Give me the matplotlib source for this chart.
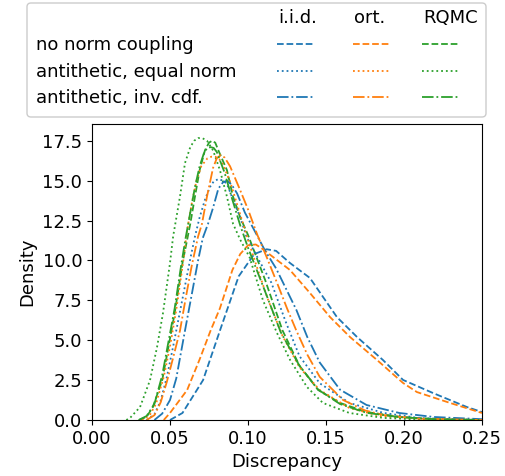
import matplotlib
matplotlib.use("Agg")
import matplotlib.pyplot as plt
from matplotlib.lines import Line2D
from matplotlib.patches import FancyBboxPatch

# curve samples (x = discrepancy, y = density)
iid_none_x = [0.050, 0.058, 0.0712, 0.082, 0.094, 0.104, 0.112, 0.118, 0.1269, 0.1397, 0.1481, 0.157,
              0.1699, 0.1865, 0.1994, 0.2186, 0.2404, 0.25]
iid_none_y = [0.0, 0.44, 2.5, 5.6, 9.0, 10.4, 10.7, 10.6, 9.84, 8.90, 7.71, 6.45,
              5.2, 3.76, 2.51, 1.69, 0.81, 0.5]

ort_none_x = [0.046, 0.050, 0.061, 0.069, 0.076, 0.082, 0.090, 0.095, 0.100, 0.105, 0.1096, 0.1269,
              0.1397, 0.1526, 0.1654, 0.1827, 0.1994, 0.2083, 0.2295, 0.25]
ort_none_y = [0.0, 0.44, 1.88, 3.8, 5.6, 7.0, 9.4, 10.4, 10.95, 11.0, 10.7, 9.40,
              7.96, 6.45, 5.2, 3.76, 2.32, 1.75, 1.07, 0.44]

rqmc_none_x = [0.030, 0.035, 0.039, 0.045, 0.049, 0.053, 0.058, 0.061, 0.063, 0.066, 0.069, 0.0724,
               0.075, 0.077, 0.079, 0.081, 0.0865, 0.0904, 0.095, 0.100, 0.111, 0.122, 0.133, 0.145,
               0.159, 0.176, 0.197, 0.22, 0.25]
rqmc_none_y = [0.0, 0.2, 0.81, 2.5, 4.57, 6.7, 9.84, 11.3, 12.3, 14.0, 15.66, 16.9,
               17.38, 17.5, 17.38, 16.9, 15.66, 14.0, 12.7, 11.6, 8.77, 5.64, 3.4, 1.88,
               1.07, 0.5, 0.2, 0.05, 0.0]

iid_eq_x = [0.035, 0.040, 0.044, 0.048, 0.052, 0.056, 0.060, 0.063, 0.066, 0.069, 0.0724, 0.0756,
            0.078, 0.081, 0.084, 0.0865, 0.0904, 0.095, 0.099, 0.106, 0.115, 0.124, 0.133, 0.146,
            0.165, 0.187, 0.21, 0.25]
iid_eq_y = [0.0, 0.35, 1.2, 2.7, 4.6, 6.6, 8.6, 10.1, 11.5, 12.7, 13.8, 14.6,
            14.95, 15.1, 15.0, 14.8, 13.8, 12.7, 11.5, 10.2, 8.6, 6.2, 4.0, 2.3,
            1.07, 0.44, 0.12, 0.0]

ort_eq_x = [0.032, 0.037, 0.041, 0.046, 0.050, 0.054, 0.058, 0.061, 0.064, 0.067, 0.070, 0.074,
            0.0765, 0.079, 0.0815, 0.084, 0.089, 0.094, 0.100, 0.106, 0.113, 0.122, 0.133, 0.146,
            0.165, 0.185, 0.21, 0.25]
ort_eq_y = [0.0, 0.3, 1.0, 2.7, 4.6, 6.9, 9.6, 11.9, 13.6, 15.0, 15.9, 16.4,
            16.5, 16.5, 16.35, 16.0, 14.8, 13.2, 11.3, 9.5, 7.5, 5.3, 3.3, 1.88,
            0.75, 0.25, 0.06, 0.0]

rqmc_eq_x = [0.022, 0.0244, 0.0308, 0.0372, 0.0417, 0.0455, 0.050, 0.052, 0.0564, 0.0596, 0.063, 0.0655,
             0.068, 0.071, 0.0737, 0.0776, 0.082, 0.0865, 0.0904, 0.095, 0.101, 0.1096, 0.1186, 0.127,
             0.1378, 0.148, 0.165, 0.187, 0.21, 0.25]
rqmc_eq_y = [0.0, 0.13, 0.81, 2.5, 4.57, 6.7, 9.84, 11.5, 14.0, 16.1, 17.1, 17.5,
             17.67, 17.65, 17.5, 16.9, 15.66, 14.0, 12.3, 11.3, 10.2, 7.5, 5.45, 3.76,
             2.07, 1.07, 0.44, 0.13, 0.03, 0.0]

iid_inv_x = [0.040, 0.045, 0.050, 0.054, 0.0596, 0.064, 0.068, 0.071, 0.0744, 0.0776, 0.081, 0.084,
             0.0865, 0.0895, 0.093, 0.098, 0.104, 0.111, 0.118, 0.124, 0.131, 0.138, 0.146, 0.159,
             0.176, 0.197, 0.219, 0.25]
iid_inv_y = [0.0, 0.4, 1.25, 2.6, 5.6, 7.9, 10.0, 11.4, 12.3, 13.3, 14.5, 14.9,
             15.0, 14.75, 14.2, 13.0, 11.9, 10.6, 9.5, 8.3, 6.9, 5.2, 3.6, 1.9,
             0.94, 0.44, 0.19, 0.05]

ort_inv_x = [0.035, 0.040, 0.044, 0.048, 0.052, 0.0564, 0.060, 0.064, 0.068, 0.0705, 0.0737, 0.0776,
             0.080, 0.0825, 0.085, 0.0885, 0.095, 0.100, 0.106, 0.112, 0.119, 0.125, 0.131, 0.138,
             0.146, 0.161, 0.175, 0.187, 0.21, 0.25]
ort_inv_y = [0.0, 0.3, 1.1, 2.4, 3.9, 5.6, 7.6, 9.7, 11.5, 12.3, 14.0, 15.8,
             16.4, 16.6, 16.45, 15.9, 14.4, 13.2, 11.6, 10.2, 8.5, 7.0, 5.6, 4.1,
             2.7, 1.25, 0.6, 0.31, 0.08, 0.0]

rqmc_inv_x = [0.030, 0.035, 0.040, 0.045, 0.049, 0.053, 0.057, 0.060, 0.063, 0.066, 0.069, 0.072,
              0.074, 0.076, 0.078, 0.080, 0.085, 0.090, 0.095, 0.100, 0.110, 0.121, 0.133, 0.145,
              0.159, 0.176, 0.197, 0.22, 0.25]
rqmc_inv_y = [0.0, 0.25, 1.0, 2.8, 4.9, 7.0, 9.6, 11.4, 13.0, 14.6, 15.9, 16.8,
              17.05, 17.1, 17.05, 16.8, 15.5, 13.8, 12.2, 10.8, 8.3, 5.5, 3.4, 1.9,
              1.0, 0.45, 0.18, 0.05, 0.0]

methods = ["i.i.d.", "ort.", "RQMC"]
couplings = ["no norm coupling", "antithetic, equal norm", "antithetic, inv. cdf."]
colors = ["#1f77b4", "#ff7f0e", "#2ca02c"]
styles = ["--", ":", "-."]

curves = {
    ("i.i.d.", 0): (iid_none_x, iid_none_y),
    ("ort.", 0): (ort_none_x, ort_none_y),
    ("RQMC", 0): (rqmc_none_x, rqmc_none_y),
    ("i.i.d.", 1): (iid_eq_x, iid_eq_y),
    ("ort.", 1): (ort_eq_x, ort_eq_y),
    ("RQMC", 1): (rqmc_eq_x, rqmc_eq_y),
    ("i.i.d.", 2): (iid_inv_x, iid_inv_y),
    ("ort.", 2): (ort_inv_x, ort_inv_y),
    ("RQMC", 2): (rqmc_inv_x, rqmc_inv_y),
}

W, H = 506, 476
plt.rcParams['font.size'] = 13
fig = plt.figure(figsize=(W / 100, H / 100), dpi=100)
ax = fig.add_axes([92 / W, 1 - 420 / H, 390 / W, 296 / H])

lw = 1.3
for (m, k), (x, y) in curves.items():
    ax.plot(x, y, color=colors[methods.index(m)], linestyle=styles[k], linewidth=lw)

ax.set_xlim(0, 0.25)
ax.set_ylim(0, 18.55)
ax.set_xticks([0.0, 0.05, 0.10, 0.15, 0.20, 0.25])
ax.set_yticks([0.0, 2.5, 5.0, 7.5, 10.0, 12.5, 15.0, 17.5])
ax.xaxis.set_major_formatter(matplotlib.ticker.FormatStrFormatter('%.2f'))
ax.yaxis.set_major_formatter(matplotlib.ticker.FormatStrFormatter('%.1f'))
ax.set_xlabel("Discrepancy")
ax.set_ylabel("Density")

# table-like legend above the axes
def fx(px):
    return px / W


def fy(py):
    return 1 - py / H


box = FancyBboxPatch((fx(27), fy(117)), fx(486) - fx(27), fy(3) - fy(117),
                     boxstyle="round,pad=0,rounding_size=0.008", transform=fig.transFigure,
                     facecolor="white", edgecolor="0.8", linewidth=1.0)
fig.add_artist(box)

col_x = [277, 353, 422]
row_y = [45, 72, 98]
for j, m in enumerate(methods):
    fig.text(fx(col_x[j] + 1), fy(18), m, ha="left", va="center")
for i, c in enumerate(couplings):
    fig.text(fx(36), fy(row_y[i]), c, ha="left", va="center")
    for j in range(3):
        fig.add_artist(Line2D([fx(col_x[j]), fx(col_x[j] + 36)], [fy(row_y[i] - 1), fy(row_y[i] - 1)],
                              transform=fig.transFigure, color=colors[j], linestyle=styles[i],
                              linewidth=lw))

fig.savefig("out.png", dpi=100)
